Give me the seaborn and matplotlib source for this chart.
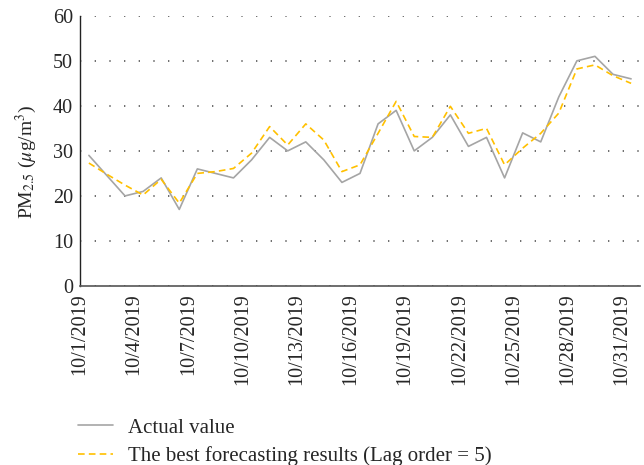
import numpy as np
import pandas as pd
import matplotlib
matplotlib.use("Agg")
import matplotlib.pyplot as plt
import seaborn as sns

# daily PM2.5, October 2019
days = [f"10/{d}/2019" for d in range(1, 32)]
actual = [29, 24.5, 20, 21, 24, 17, 26, 25, 24, 28, 33, 30, 32, 28, 23, 25,
          36, 39, 30, 33, 38, 31, 33, 24, 34, 32, 42, 50, 51, 47, 46]
forecast = [27.3, 24.8, 22.4, 20.2, 23.7, 18.4, 25.0, 25.4, 26.1, 29.5, 35.4, 31.3, 36.0, 32.4, 25.4, 26.9,
            33.9, 41.0, 33.2, 33.0, 39.9, 33.9, 35.0, 26.9, 30.6, 33.9, 38.4, 48.2, 49.1, 46.7, 45.0]
series_names = ["Actual value", "The best forecasting results (Lag order = 5)"]
label_every = 3

sns.set_theme(style="white")
plt.rcParams["font.family"] = ["Liberation Serif", "DejaVu Serif"]
plt.rcParams["mathtext.fontset"] = "stix"

n = len(days)
df = pd.DataFrame({
    "idx": list(range(n)) * 2,
    "value": actual + forecast,
    "series": [series_names[0]] * n + [series_names[1]] * n,
})

fig = plt.figure(figsize=(6.44, 4.65), dpi=100)
ax = fig.add_axes([0.124, 0.385, 0.870, 0.581])

sns.lineplot(data=df, x="idx", y="value", hue="series", style="series",
             palette={series_names[0]: "#A5A5A5", series_names[1]: "#FFC000"},
             dashes={series_names[0]: "", series_names[1]: (4, 2.5)},
             linewidth=1.2, ax=ax)

ax.set_xlim(-0.5, n - 0.5)
ax.set_ylim(0, 60)
ax.set_yticks(range(0, 61, 10))
tick_pos = np.arange(-0.5, n - 0.5, label_every)
ax.set_xticks(tick_pos)
ax.set_xticklabels(days[::label_every], rotation=90, fontsize=14.5)
ax.tick_params(axis="y", labelsize=14.5, direction="in", length=4, width=1,
               color="#222222", pad=5)
ax.tick_params(axis="x", direction="in", length=4, width=1, color="#222222", pad=5)
ax.yaxis.grid(True, linestyle=(0, (0.8, 8)), color="#555555", linewidth=1.2)
ax.xaxis.grid(False)
for side in ["top", "right"]:
    ax.spines[side].set_visible(False)
ax.spines["left"].set_color("#222222")
ax.spines["bottom"].set_color("#555555")
ax.spines["left"].set_linewidth(1)
ax.spines["bottom"].set_linewidth(1.2)

ax.set_xlabel("")
ax.set_ylabel(r"PM$_{2.5}$ ($\mathit{\mu}$g/m$^3$)", fontsize=14)
ax.yaxis.set_label_coords(-0.073, 0.46)

ax.get_legend().remove()
handles, labels = ax.get_legend_handles_labels()
fig.legend(handles, labels, loc="upper left", bbox_to_anchor=(0.121, 0.101),
           frameon=False, fontsize=15, handlelength=1.7, handletextpad=0.72,
           labelspacing=0.42, borderaxespad=0, borderpad=0)

fig.savefig("out.png", dpi=100)
